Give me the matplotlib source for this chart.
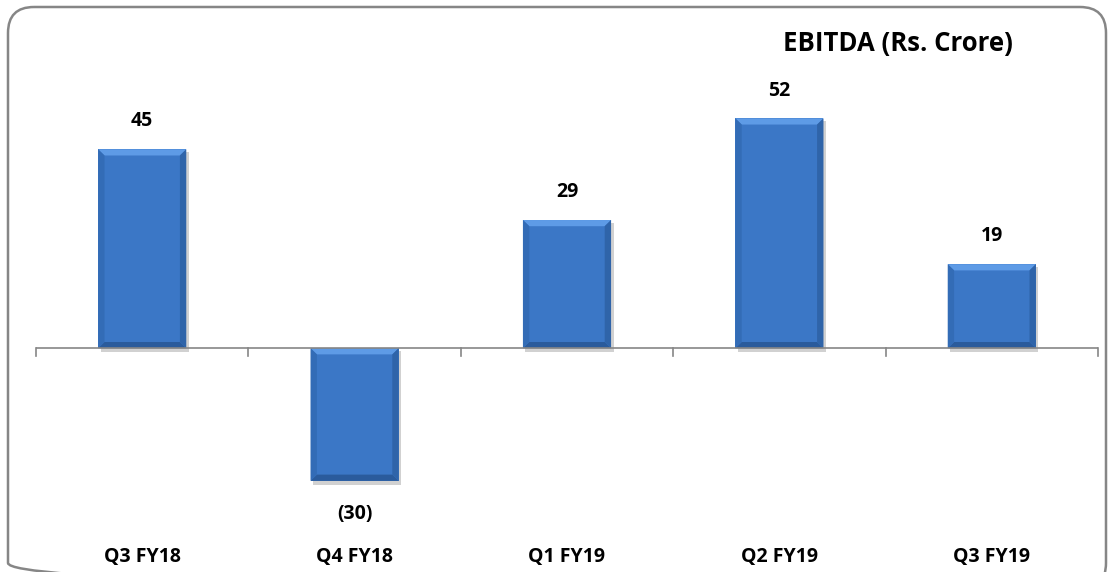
import matplotlib
matplotlib.use('Agg')
import matplotlib.pyplot as plt
from matplotlib.patches import FancyBboxPatch
import numpy as np

# 数据
quarters = ['Q3 FY18', 'Q4 FY18', 'Q1 FY19', 'Q2 FY19', 'Q3 FY19']
ebitda = [45, -30, 29, 52, 19]
labels = ['45', '(30)', '29', '52', '19']

plt.rcParams['font.family'] = ['Open Sans', 'DejaVu Sans']

W, H = 1108, 572
fig = plt.figure(figsize=(W / 100, H / 100), dpi=100)
fig.patch.set_facecolor('white')

# 圆角外框 (像素坐标)
bg = fig.add_axes([0, 0, 1, 1])
bg.set_xlim(0, W)
bg.set_ylim(H, 0)
bg.axis('off')
bg.add_patch(FancyBboxPatch((8, 7), W - 10, H + 10,
                            boxstyle='round,pad=0,rounding_size=26',
                            facecolor='none', edgecolor='#868686', linewidth=1.8))

ax = fig.add_axes([36 / W, 1 - 525 / H, 1062 / W, 442 / H])
ax.set_xlim(-0.5, len(quarters) - 0.5)
ax.set_ylim(-40, 60)
ax.axis('off')

x = np.arange(len(quarters))
bw = 0.415
bx = 0.03   # 斜面宽度 (x)
by = 1.4    # 斜面高度 (y)

for xi, v, lbl in zip(x, ebitda, labels):
    y0, y1 = min(0, v), max(0, v)
    l, r = xi - bw / 2, xi + bw / 2
    # 阴影
    ax.fill([l + 0.012, r + 0.012, r + 0.012, l + 0.012],
            [y0 - 0.9, y0 - 0.9, y1 - 0.6, y1 - 0.6],
            color='#000000', alpha=0.18, zorder=1, linewidth=0)
    ax.bar(xi, v, bw, color='#3b77c6', linewidth=0, zorder=2)
    # 斜面
    ax.fill([l, r, r - bx, l + bx], [y1, y1, y1 - by, y1 - by],
            color='#5e9be6', zorder=3, linewidth=0)
    ax.fill([l, r, r - bx, l + bx], [y0, y0, y0 + by, y0 + by],
            color='#2a5b9c', zorder=3, linewidth=0)
    ax.fill([l, l + bx, l + bx, l], [y0, y0 + by, y1 - by, y1],
            color='#336cb6', zorder=3, linewidth=0)
    ax.fill([r, r - bx, r - bx, r], [y0, y0 + by, y1 - by, y1],
            color='#2f64a9', zorder=3, linewidth=0)
    if v >= 0:
        ax.text(xi, v + 6.3, lbl, ha='center', va='center', fontsize=14,
                fontweight='bold', color='#000000')
    else:
        ax.text(xi, v - 7.6, lbl, ha='center', va='center', fontsize=14,
                fontweight='bold', color='#000000')

# 零线和刻度
ax.axhline(0, color='#868686', linewidth=1.2, zorder=5)
for b in np.arange(-0.5, len(quarters), 1.0):
    ax.plot([b, b], [0, -1.8], color='#868686', linewidth=1.2, zorder=5,
            clip_on=False)

# 类别标签
for xi, q in zip(x, quarters):
    fig.text((36 + 1062 * (xi + 0.5) / len(quarters)) / W, 1 - 557 / H, q,
             ha='center', va='center', fontsize=14, fontweight='bold')

fig.text(898 / W, 1 - 43 / H, 'EBITDA (Rs. Crore)', ha='center', va='center',
         fontsize=18.5, fontweight='bold')

fig.savefig('out.png', dpi=100, facecolor='white')
